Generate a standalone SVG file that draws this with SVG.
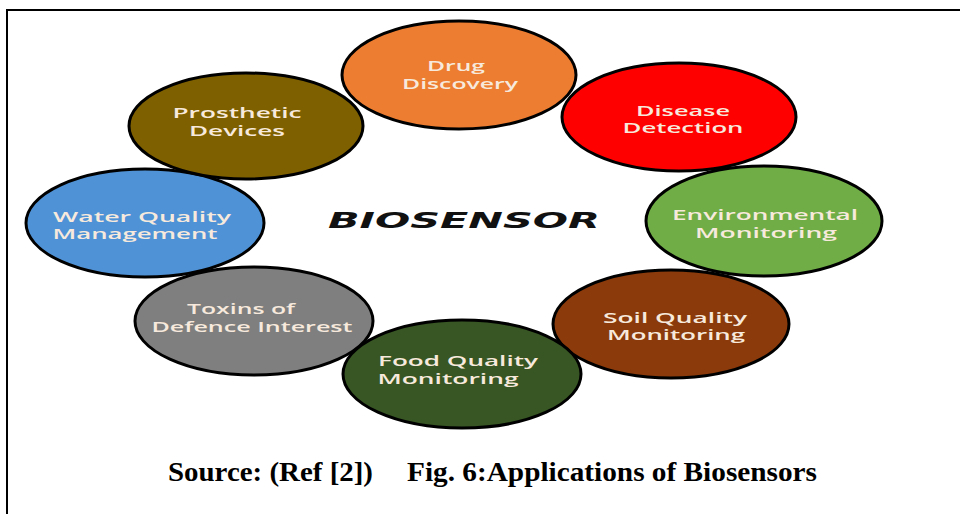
<svg xmlns="http://www.w3.org/2000/svg" width="960" height="514" viewBox="0 0 960 514">
  <style>
    .node { stroke: #000; stroke-width: 3; }
    .lbl { font-family: "Open Sans", "Noto Sans", sans-serif; font-size: 15px; font-weight: 600; fill: #F7EADD; text-anchor: middle; }
    .title { font-family: "DejaVu Sans", "Liberation Sans", sans-serif; font-size: 21px; font-weight: bold; font-style: italic; fill: #111; }
    .caption { font-family: "Liberation Serif", "Times New Roman", serif; font-size: 28px; font-weight: bold; fill: #000; }
    .frame { stroke: #000; stroke-width: 2; fill: none; }
  </style>

  <rect x="0" y="0" width="960" height="514" fill="#fff"/>

  <!-- page frame: top rule and left rule -->
  <g id="frame">
    <line class="frame" x1="6" y1="10" x2="960" y2="10"/>
    <line class="frame" x1="7" y1="9" x2="7" y2="514"/>
  </g>

  <!-- no connectors in this figure -->
  <g id="connectors"/>

  <g id="soil">
    <ellipse class="node" cx="671" cy="324" rx="118" ry="54" fill="#8A3A0B"/>
    <text class="lbl" x="675" y="323" textLength="144" lengthAdjust="spacingAndGlyphs">Soil Quality</text>
    <text class="lbl" x="676" y="340" textLength="138" lengthAdjust="spacingAndGlyphs">Monitoring</text>
  </g>

  <g id="toxins">
    <ellipse class="node" cx="254" cy="321" rx="119" ry="54" fill="#7F7F7F"/>
    <text class="lbl" x="241" y="314" textLength="108" lengthAdjust="spacingAndGlyphs">Toxins of</text>
    <text class="lbl" x="252" y="332" textLength="201" lengthAdjust="spacingAndGlyphs">Defence Interest</text>
  </g>

  <g id="water">
    <ellipse class="node" cx="145" cy="223" rx="119" ry="54" fill="#4F92D6"/>
    <text class="lbl" x="142" y="222" textLength="178" lengthAdjust="spacingAndGlyphs">Water Quality</text>
    <text class="lbl" x="135" y="239" textLength="165" lengthAdjust="spacingAndGlyphs">Management</text>
  </g>

  <g id="prosthetic">
    <ellipse class="node" cx="246" cy="126" rx="117" ry="53" fill="#7F6000"/>
    <text class="lbl" x="237" y="118" textLength="129" lengthAdjust="spacingAndGlyphs">Prosthetic</text>
    <text class="lbl" x="237" y="136" textLength="96" lengthAdjust="spacingAndGlyphs">Devices</text>
  </g>

  <g id="drug">
    <ellipse class="node" cx="459" cy="75" rx="117" ry="54" fill="#ED7D31"/>
    <text class="lbl" x="456" y="71" textLength="58" lengthAdjust="spacingAndGlyphs">Drug</text>
    <text class="lbl" x="460" y="89" textLength="116" lengthAdjust="spacingAndGlyphs">Discovery</text>
  </g>

  <g id="disease">
    <ellipse class="node" cx="679" cy="117" rx="117" ry="54" fill="#FF0000"/>
    <text class="lbl" x="683" y="116" textLength="94" lengthAdjust="spacingAndGlyphs">Disease</text>
    <text class="lbl" x="683" y="133" textLength="121" lengthAdjust="spacingAndGlyphs">Detection</text>
  </g>

  <g id="environmental">
    <ellipse class="node" cx="764" cy="221" rx="118" ry="55" fill="#70AD47"/>
    <text class="lbl" x="765" y="220" textLength="186" lengthAdjust="spacingAndGlyphs">Environmental</text>
    <text class="lbl" x="766" y="238" textLength="142" lengthAdjust="spacingAndGlyphs">Monitoring</text>
  </g>

  <g id="food">
    <ellipse class="node" cx="462" cy="374" rx="119" ry="54" fill="#375623"/>
    <text class="lbl" x="458" y="366" textLength="160" lengthAdjust="spacingAndGlyphs">Food Quality</text>
    <text class="lbl" x="448" y="384" textLength="141" lengthAdjust="spacingAndGlyphs">Monitoring</text>
  </g>

  <g id="biosensor">
    <text class="title" x="328" y="228" textLength="272" lengthAdjust="spacingAndGlyphs">BIOSENSOR</text>
  </g>

  <g id="caption">
    <text class="caption" x="168" y="481" textLength="205" lengthAdjust="spacingAndGlyphs">Source: (Ref [2])</text>
    <text class="caption" x="407" y="481" textLength="410" lengthAdjust="spacingAndGlyphs">Fig. 6:Applications of Biosensors</text>
  </g>
</svg>
